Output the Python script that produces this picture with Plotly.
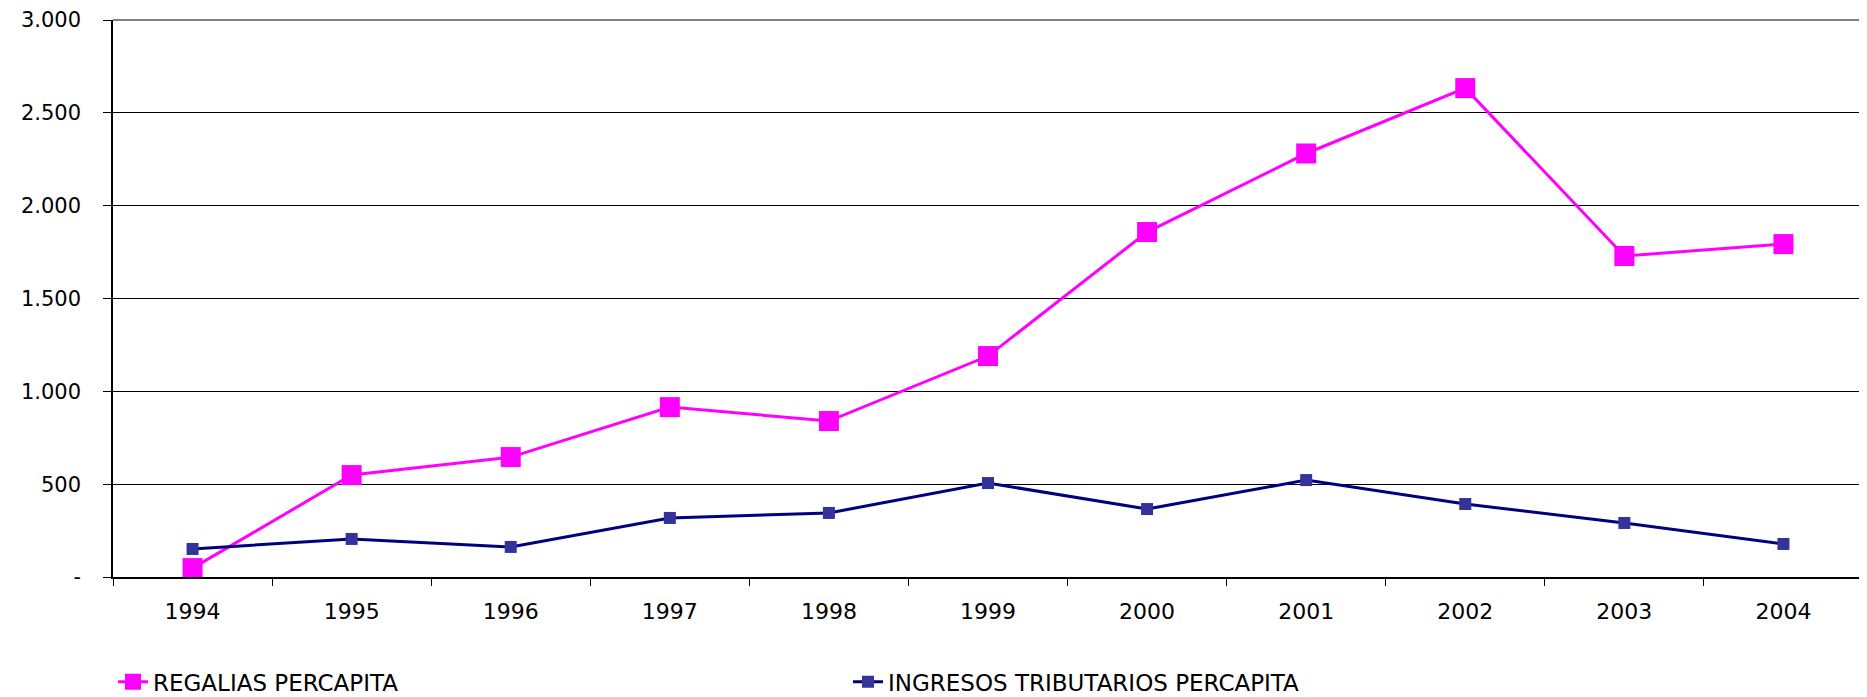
import plotly.graph_objects as go

years = ["1994", "1995", "1996", "1997", "1998", "1999", "2000", "2001", "2002", "2003", "2004"]
regalias = [48, 549, 646, 915, 840, 1190, 1858, 2281, 2633, 1729, 1793]
ingresos = [151, 205, 162, 318, 345, 506, 366, 522, 393, 291, 178]
y_tickvals = [0, 500, 1000, 1500, 2000, 2500, 3000]
y_ticktext = ["-", "500", "1.000", "1.500", "2.000", "2.500", "3.000"]

FONT = "DejaVu Sans"

fig = go.Figure()
fig.add_trace(go.Scatter(
    x=years, y=regalias, name="REGALIAS PERCAPITA", mode="lines+markers",
    line=dict(color="#FF00FF", width=3),
    marker=dict(symbol="square", size=20, color="#FF00FF"),
))
fig.add_trace(go.Scatter(
    x=years, y=ingresos, name="INGRESOS TRIBUTARIOS PERCAPITA", mode="lines+markers",
    line=dict(color="#000080", width=3),
    marker=dict(symbol="square", size=12, color="#333399"),
))

# page body has an 8px margin, so the figure is sized to fit the remaining window
fig.update_layout(
    width=1859, height=689,
    margin=dict(l=105, r=4, t=12, b=120, autoexpand=False),
    paper_bgcolor="white", plot_bgcolor="white",
    font=dict(family=FONT, size=21, color="black"),
    showlegend=True,
    legend=dict(
        orientation="h", x=0.0, xanchor="left", y=-0.188, yanchor="middle",
        font=dict(family=FONT, size=23, color="black"),
        entrywidth=690, entrywidthmode="pixels",
        bgcolor="rgba(0,0,0,0)", tracegroupgap=0,
    ),
)
fig.update_xaxes(
    type="category", range=[-0.5, 10.5], automargin=False,
    showline=True, linecolor="black", linewidth=1.5,
    ticks="outside", ticklen=7, tickcolor="black", tickson="boundaries",
    showgrid=False, ticklabelstandoff=14,
    tickfont=dict(family=FONT, size=22),
)
fig.update_yaxes(
    range=[0, 3000], tickvals=y_tickvals, ticktext=y_ticktext, automargin=False,
    showline=True, linecolor="black", linewidth=1.5,
    ticks="outside", ticklen=8, tickcolor="black",
    showgrid=True, gridcolor="black", gridwidth=1,
    zeroline=False, ticklabelstandoff=18,
    tickfont=dict(family=FONT, size=21),
)
fig.add_shape(type="line", xref="paper", yref="paper", x0=0, x1=1, y0=1, y1=1,
              line=dict(color="#808080", width=2))
fig.add_shape(type="line", xref="paper", yref="paper", x0=1, x1=1, y0=0, y1=1,
              line=dict(color="#808080", width=2))

fig.write_html("out.html")
